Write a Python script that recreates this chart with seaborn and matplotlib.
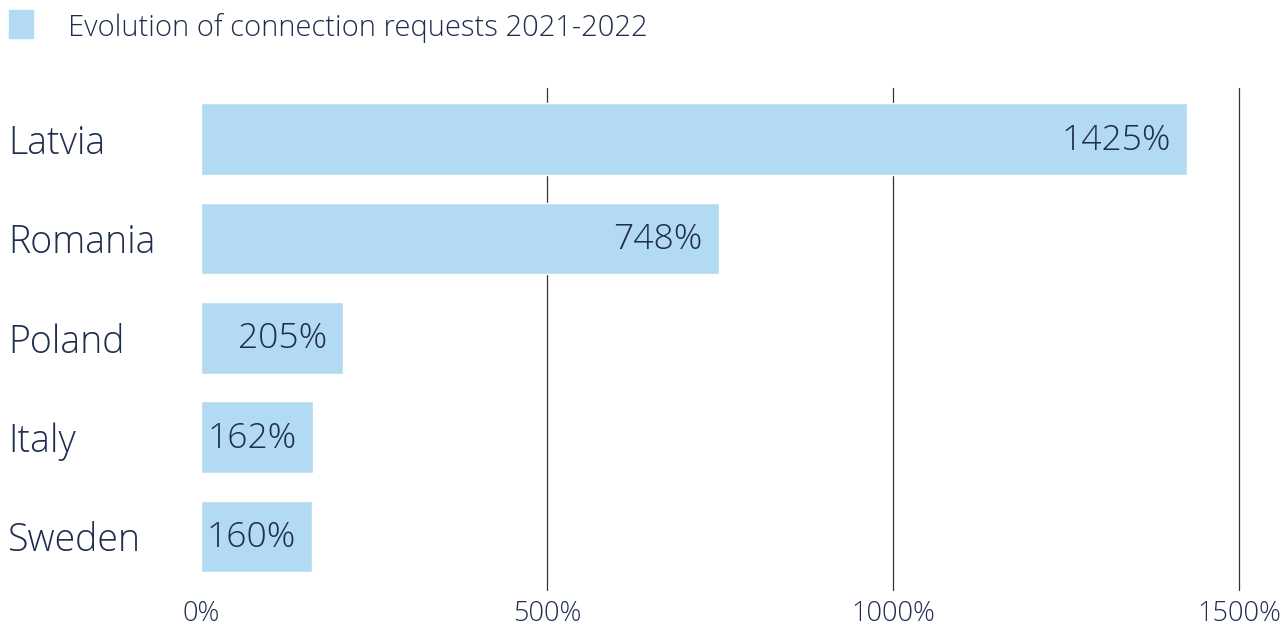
import matplotlib
matplotlib.use("Agg")
import matplotlib.pyplot as plt
import seaborn as sns
import pandas as pd
from matplotlib.patches import Rectangle

countries = ["Latvia", "Romania", "Poland", "Italy", "Sweden"]
growth = [1425, 748, 205, 162, 160]
xticks = [0, 500, 1000, 1500]
xtick_labels = ["0%", "500%", "1000%", "1500%"]
legend_label = "Evolution of connection requests 2021-2022"

BAR = "#b3daf3"
TXT = "#1f2d4f"

sns.set_theme(style="white")
plt.rcParams["font.family"] = ["Open Sans", "DejaVu Sans"]
WT = "light"

df = pd.DataFrame({"country": countries, "growth": growth})

W, H = 1288, 628
fig = plt.figure(figsize=(W / 100, H / 100), dpi=100)
ax_left, ax_right = 201 / W, 1239 / W
ax_top, ax_bot = 88 / H, 590 / H
ax = fig.add_axes([ax_left, 1 - ax_bot, ax_right - ax_left, ax_bot - ax_top])

sns.barplot(data=df, x="growth", y="country", orient="h", color=BAR,
            width=0.72, saturation=1, ax=ax, zorder=2)

ax.set_xlim(0, 1500)
ax.set_ylim(4.539, -0.514)
for s in ax.spines.values():
    s.set_visible(False)

for t in xticks[1:]:
    ax.axvline(t, color="#333333", lw=0.9, zorder=1, clip_on=False)

ax.set_xticks(xticks)
ax.set_xticklabels(xtick_labels, fontsize=19.5, color=TXT, fontweight=WT)
ax.tick_params(axis="x", length=0, pad=7)
ax.set_yticks(range(len(countries)))
ax.set_yticklabels(countries, fontsize=27, color=TXT, ha="left", fontweight=WT)
ax.tick_params(axis="y", length=0, pad=193 * 72 / 100)
ax.set_xlabel("")
ax.set_ylabel("")

for i, v in enumerate(growth):
    ax.annotate(f"{v}%", xy=(v, i), xytext=(-11.5, -1), textcoords="offset points",
                ha="right", va="center", fontsize=25.5, color=TXT, zorder=3,
                fontweight=WT)

fig.patches.append(Rectangle((9 / W, 1 - 38 / H), 24 / W, 28 / H,
                             transform=fig.transFigure, color=BAR))
fig.text(68 / W, 1 - 28 / H, legend_label, fontsize=21, color=TXT,
         va="center", ha="left", fontweight=WT)

fig.savefig("out.png", dpi=100)
